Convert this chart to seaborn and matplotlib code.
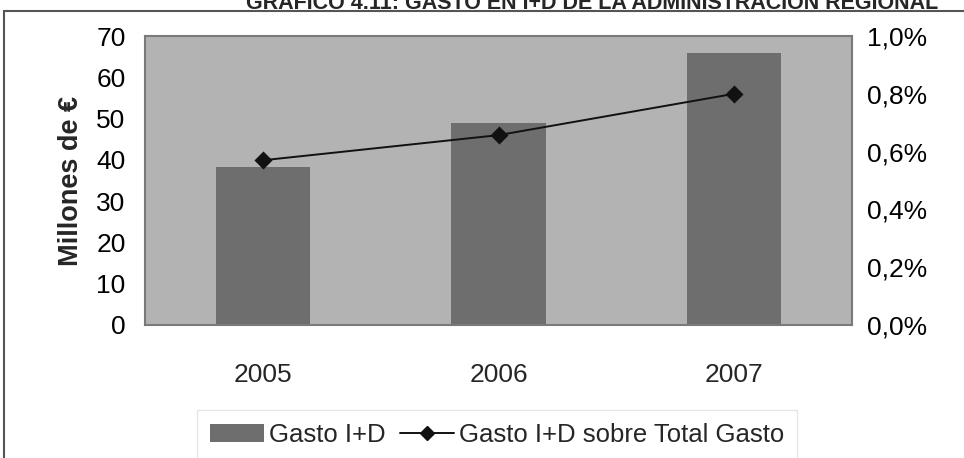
import matplotlib
matplotlib.use("Agg")
import matplotlib.pyplot as plt
import matplotlib.patches as mpatches
from matplotlib.lines import Line2D
from matplotlib.ticker import FuncFormatter, FixedLocator
import seaborn as sns
import pandas as pd

years = ["2005", "2006", "2007"]
gasto_id = [38.3, 48.9, 65.9]          # millones de euros
pct_total = [0.0057, 0.00657, 0.0080]  # fracción del gasto total

sns.set_theme(style="white")
plt.rcParams["font.family"] = ["Liberation Sans", "DejaVu Sans"]

df = pd.DataFrame({"year": years, "gasto": gasto_id, "pct": pct_total})

fig = plt.figure(figsize=(9.64, 4.58), dpi=100)
ax = fig.add_axes([145 / 964, 1 - 325 / 458, (852 - 145) / 964, (325 - 36) / 458])

sns.barplot(data=df, x="year", y="gasto", color="#6e6e6e", saturation=1,
            width=0.4, ax=ax, zorder=2)
for p in ax.patches:
    p.set_edgecolor("none")
ax.set_facecolor("#b3b3b3")
ax.set_xlim(-0.5, 2.5)
ax.set_ylim(0, 70)
ax.set_yticks(range(0, 71, 10))
ax.set_xlabel("")
ax.set_ylabel("Millones de €", fontsize=19.5, fontweight="bold", labelpad=9)
ax.tick_params(axis="y", length=0, labelsize=19, pad=14, colors="black")
ax.tick_params(axis="x", which="major", length=0, labelsize=19, pad=27)
ax.xaxis.set_minor_locator(FixedLocator([-0.5, 0.5, 1.5, 2.5]))
ax.tick_params(axis="x", which="minor", length=7, color="#d4d4d4", width=1)
for s in ax.spines.values():
    s.set_color("#7a7a7a")
    s.set_linewidth(1.5)

ax2 = ax.twinx()
sns.pointplot(data=df, x="year", y="pct", color="#111111", markers="D",
              markersize=8, linewidth=1.4, ax=ax2)
ax2.set_ylim(0, 0.01)
ax2.set_xlim(-0.5, 2.5)
ax2.set_yticks([0, 0.002, 0.004, 0.006, 0.008, 0.010])
ax2.yaxis.set_major_formatter(FuncFormatter(lambda v, _: f"{v*100:.1f}%".replace(".", ",")))
ax2.tick_params(axis="y", length=0, labelsize=19, pad=11, colors="black")
ax2.yaxis.set_minor_locator(FixedLocator([0.008]))
ax2.tick_params(axis="y", which="minor", length=5, color="#7a7a7a", width=1)
ax2.set_ylabel("")
ax2.set_xlabel("")
for s in ax2.spines.values():
    s.set_visible(False)

# outer chart frame
fig.patches.append(mpatches.Rectangle((4 / 964, -0.1), 1.2, 1.1 - 11 / 458,
                                      transform=fig.transFigure, fill=False,
                                      edgecolor="#555555", linewidth=1.5))

fig.text(592 / 964, 1 - 9 / 458,
         "GRÁFICO 4.11: GASTO EN I+D DE LA ADMINISTRACIÓN REGIONAL",
         ha="center", va="baseline", fontsize=15.5, fontweight="bold")

handles = [mpatches.Patch(facecolor="#6e6e6e", edgecolor="none", label="Gasto I+D"),
           Line2D([], [], color="#111111", marker="D", markersize=7, linewidth=1.4,
                  label="Gasto I+D sobre Total Gasto")]
leg = fig.legend(handles=handles, loc="center", bbox_to_anchor=(497 / 964, 1 - 435 / 458),
                 ncol=2, fontsize=18.5, frameon=True, fancybox=False, handlelength=2.1,
                 handletextpad=0.2, columnspacing=0.55, borderpad=0.5)
leg.get_frame().set_edgecolor("#e0e0e0")
leg.get_frame().set_linewidth(1)

fig.savefig("out.png", dpi=100)
